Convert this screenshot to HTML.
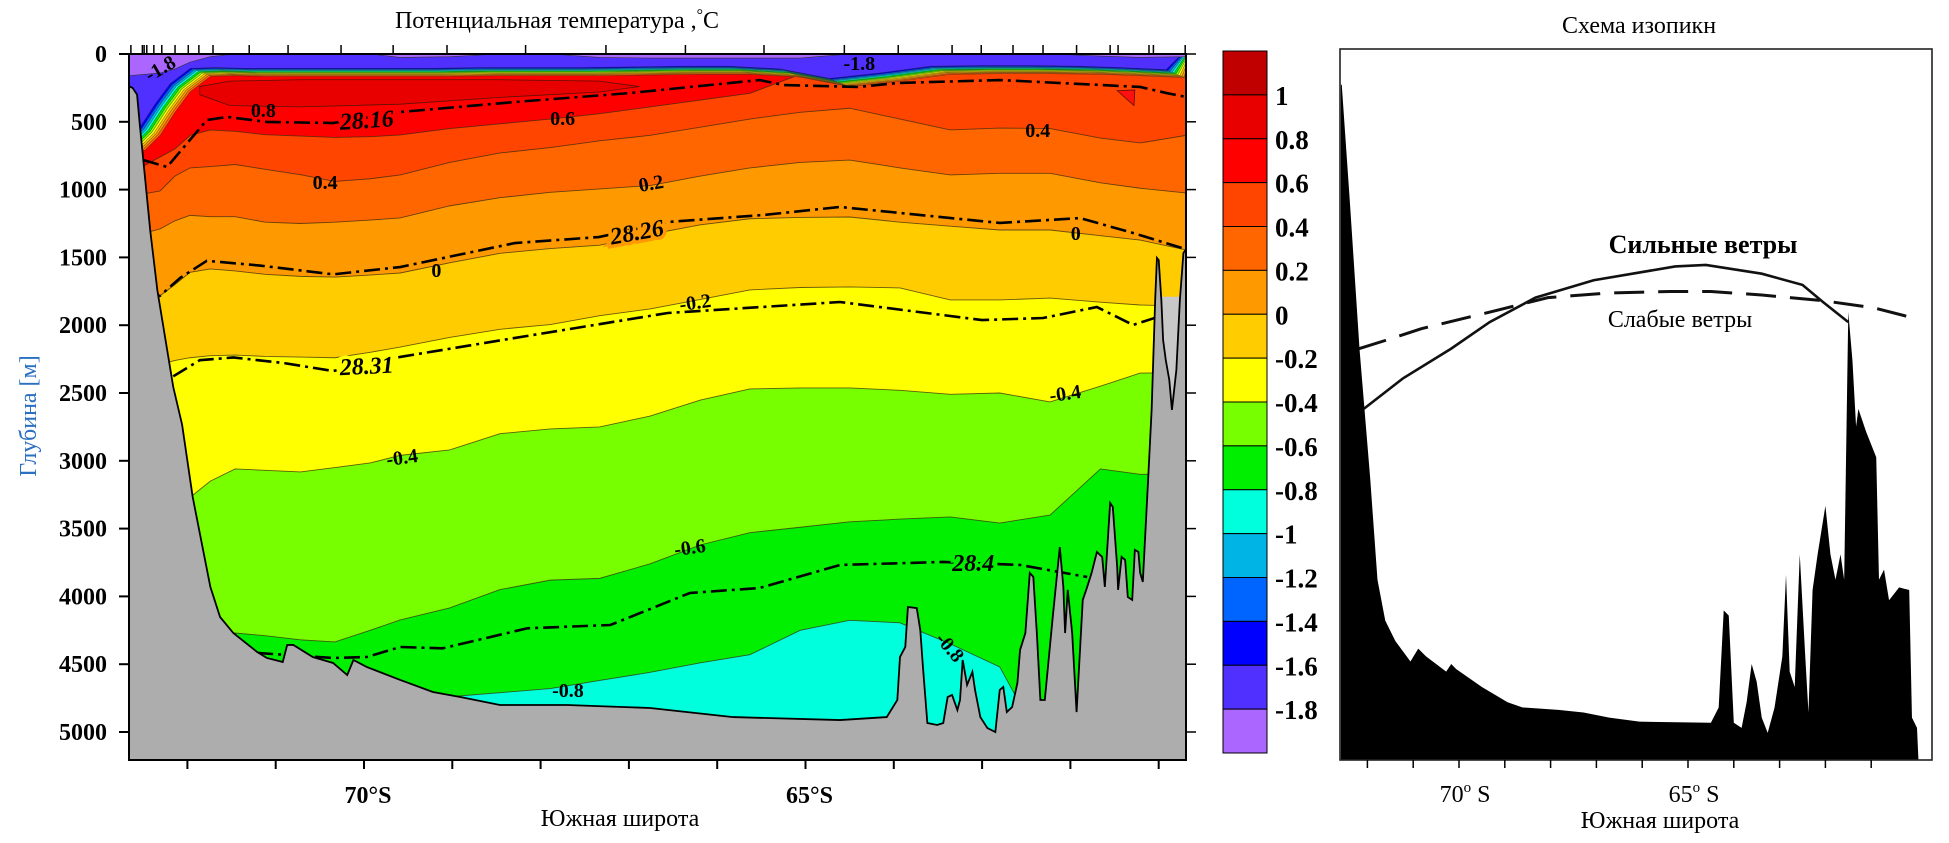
<!DOCTYPE html>
<html><head><meta charset="utf-8"><style>
html,body{margin:0;padding:0;background:#fff;}
svg{display:block;font-family:"Liberation Serif",serif;}
</style></head><body>
<svg id="fig" xmlns="http://www.w3.org/2000/svg" width="1949" height="843" viewBox="0 0 1949 843">
<defs><clipPath id="clipL"><rect x="129" y="54" width="1057" height="706"/></clipPath>
<clipPath id="clipR"><rect x="1340" y="49" width="592" height="711"/></clipPath></defs>
<g id="left"><g id="fields" clip-path="url(#clipL)"></g></g>
<g id="right"></g>
</svg>
<script>
// ---------- LEFT PANEL DATA ----------
const gridLat=[72.66,72.48,72.31,72.14,71.97,71.74,71.46,71.12,70.72,70.33,69.93,69.59,69.03,68.46,67.89,67.33,66.76,66.19,65.63,65.06,64.50,63.93,63.36,62.80,62.23,61.66,61.21,60.69];
const surfDepth=[720,710,600,430,280,165,160,165,165,165,165,165,165,160,160,160,155,150,150,170,240,200,150,145,145,150,160,175];
const lavDepth=[160,150,140,110,60,20,0,0,0,0,0,25,20,0,0,25,30,30,30,30,0,0,0,0,0,15,25,20];
const iso06=[850,820,760,700,600,560,570,595,605,615,610,597,550,515,480,440,390,340,290,150,100,100,100,100,100,100,100,100];
const iso04=[1050,1030,1010,900,840,830,815,850,890,940,920,892,800,730,690,640,600,540,480,430,400,480,560,546,550,620,656,600];
const iso02=[1350,1320,1290,1230,1190,1200,1200,1240,1250,1240,1225,1209,1120,1060,1020,995,970,900,840,800,782,840,892,880,880,950,990,1025];
const iso00=[1800,1790,1783,1700,1610,1585,1600,1625,1640,1645,1630,1615,1540,1470,1435,1410,1330,1260,1215,1205,1202,1240,1270,1298,1298,1340,1372,1445];
const isoM02=[2300,2300,2290,2260,2240,2225,2220,2230,2235,2240,2200,2161,2090,2030,1995,1930,1880,1810,1740,1722,1718,1725,1814,1814,1800,1830,1851,1860];
const isoM04=[3300,3300,3290,3280,3270,3150,3060,3070,3082,3050,3016,2960,2920,2800,2765,2750,2670,2552,2470,2463,2463,2480,2510,2500,2566,2450,2353,2350];
const isoM06=[4300,4300,4300,4300,4300,4300,4270,4290,4320,4336,4250,4174,4085,3950,3880,3867,3760,3620,3530,3490,3450,3430,3414,3459,3400,3060,3100,3100];
const isoM08=[4900,4900,4900,4900,4900,4900,4900,4900,4900,4900,4900,4900,4740,4710,4680,4620,4560,4490,4430,4250,4176,4195,4350,4520,5200,5300,5300,5300];
const coreLat=[71.86,71.52,70.72,69.59,68.46,67.33,66.88];
const coreTop=[240,200,190,190,190,200,240];
const coreBot=[300,380,390,370,320,280,240];
const rho1616Lat=[72.50,72.23,72.00,71.78,71.55,71.10,70.35,69.59,68.29,66.99,65.52,65.25,64.39,63.96,62.80,61.21,60.91,60.69];
const rho1616Dep=[782,833,656,487,464,501,509,428,354,288,192,229,243,214,192,243,288,317];
const rho2826Lat=[72.48,72.31,72.08,71.78,71.18,70.35,69.59,68.29,67.34,66.56,65.47,64.61,62.80,61.89,61.29,60.69];
const rho2826Dep=[1800,1783,1650,1525,1560,1625,1571,1394,1350,1239,1187,1128,1246,1210,1320,1440];
const rho2831Lat=[72.16,71.86,71.48,70.92,70.35,69.59,68.29,66.56,64.61,63.00,62.31,61.70,61.29,60.84,60.69];
const rho2831Dep=[2377,2258,2238,2278,2338,2234,2094,1910,1829,1962,1947,1866,1998,1903,1900];
const rho284Lat=[71.21,70.35,69.97,69.59,69.11,68.15,67.21,66.31,65.52,64.61,63.44,62.57,61.81];
const rho284Dep=[4417,4454,4447,4373,4383,4235,4211,3975,3938,3768,3746,3768,3857];
const bathyLat=[72.66,72.62,72.57,72.54,72.48,72.42,72.34,72.23,72.16,72.06,71.94,71.86,71.74,71.63,71.48,71.21,71.10,70.92,70.87,70.80,70.58,70.35,70.19,70.12,69.97,69.59,69.22,68.91,68.46,67.70,66.76,65.82,64.61,64.08,63.96,63.93,63.87,63.84,63.74,63.70,63.67,63.62,63.51,63.44,63.39,63.34,63.28,63.25,63.22,63.17,63.11,63.08,63.02,62.94,62.85,62.80,62.76,62.72,62.66,62.60,62.57,62.51,62.46,62.42,62.38,62.34,62.29,62.20,62.12,62.08,62.06,62.03,61.98,61.93,61.86,61.81,61.76,61.70,61.64,61.61,61.55,61.52,61.47,61.46,61.42,61.38,61.35,61.30,61.27,61.23,61.21,61.18,61.12,61.08,61.04,61.02,61.00,60.97,60.95,60.92,60.88,60.85,60.80,60.76,60.72,60.69];
const bathyDep=[238,250,300,515,911,1307,1743,2179,2456,2734,3267,3533,3930,4152,4270,4410,4454,4484,4358,4358,4447,4491,4580,4469,4520,4616,4705,4742,4801,4801,4823,4890,4912,4890,4764,4447,4373,4078,4086,4248,4520,4934,4948,4934,4742,4727,4838,4764,4469,4653,4557,4690,4890,4971,5000,4690,4668,4853,4816,4638,4395,4270,3827,3856,4270,4764,4764,4152,3636,3930,4270,3952,4270,4853,4026,3930,3827,3672,3709,3930,3311,3340,3783,3952,3709,3731,4004,4026,3657,3672,3827,3893,3141,2625,1814,1504,1520,1814,2109,2257,2404,2625,2330,1814,1467,1440];
const depthTicks=[0,500,1000,1500,2000,2500,3000,3500,4000,4500,5000];
const latTicks=[72,71,70,69,68,67,66,65,64,63,62,61];
const latLabels=[70,65];
const stationLats=[72.64,72.51,72.49,72.46,72.38,72.29,72.14,71.99,71.87,71.71,71.30,70.86,70.26,69.67,69.06,68.17,67.26,66.36,65.47,64.56,63.95,63.34,63.01,62.65,62.31,61.93,61.55,61.46,61.11,61.06,60.70];
const cbLabels=["1","0.8","0.6","0.4","0.2","0","-0.2","-0.4","-0.6","-0.8","-1","-1.2","-1.4","-1.6","-1.8"];
const cbColors=["#C00000","#E80000","#FF0000","#FF4500","#FF6600","#FF9900","#FFCC00","#FFFF00","#77FF00","#00EE00","#00FFDD","#00B4E6","#0064FF","#0000FF","#5030FF","#AA66FF"];
const contourLabels=[["-1.8",72.31,103,-30],["-1.8",64.39,66,0],["0.8",71.14,413,0],["0.6",67.75,472,0],["0.4",70.44,944,0],["0.4",62.37,560,0],["0.2",66.75,951,-10],["0",69.18,1593,0],["0",61.94,1320,0],["-0.2",66.25,1829,-8],["-0.4",69.57,2972,-8],["-0.4",62.06,2500,-8],["-0.6",66.31,3636,-8],["-0.8",67.69,4690,0],["-0.8",63.36,4373,50]];
// ---------- RIGHT PANEL DATA ----------
const strongLat=[72.08,71.22,70.17,69.33,68.33,67.06,65.28,64.61,63.39,62.50,62.06,61.50];
const strongDep=[2632,2408,2191,1997,1818,1691,1590,1579,1643,1725,1848,1997];
const weakLat=[72.22,71.50,70.83,69.17,68.06,66.72,65.39,64.50,63.39,62.06,60.94,59.94];
const weakDep=[2195,2120,2046,1911,1818,1784,1773,1773,1799,1840,1893,1979];
const rBathyLat=[72.58,72.56,72.39,72.17,71.94,71.78,71.61,71.39,71.06,70.89,70.72,70.28,70.17,70.06,69.5,68.94,68.61,67.83,67.28,66.72,66.06,64.5,64.33,64.22,64.11,64.0,63.83,63.72,63.61,63.5,63.39,63.26,63.11,62.94,62.86,62.78,62.67,62.56,62.44,62.37,62.28,62.17,62.0,61.89,61.78,61.67,61.59,61.5,61.41,61.33,61.28,61.11,60.89,60.83,60.72,60.61,60.39,60.17,60.11,60.0,59.97];
const rBathyDep=[261,261,1083,2203,3136,3882,4181,4330,4480,4386,4442,4554,4498,4536,4666,4778,4816,4834,4853,4890,4920,4928,4816,4106,4144,4928,4965,4778,4498,4629,4890,5002,4816,4442,3845,4554,4666,3696,4442,4853,3957,3696,3341,3696,3882,3696,3882,1922,2277,2762,2632,2800,2986,3882,3808,4032,3938,3957,4890,4965,5189];
const rLatTicks=[72,71,70,69,68,67,66,65,64,63,62,61];
const rLatLabels=[70,65];

const NS="http://www.w3.org/2000/svg";
const xL=l=>364+(70-l)*88.3, yL=d=>54+d*0.1356;
const xR=l=>1459+(70-l)*45.8, yR=d=>49.1+d*0.1367;
function mk(tag,attrs,parent){const e=document.createElementNS(NS,tag);for(const k in attrs)e.setAttribute(k,attrs[k]);parent.appendChild(e);return e;}
const fields=document.getElementById('fields'), left=document.getElementById('left'), right=document.getElementById('right');

let base=mk('rect',{x:129,y:54,width:1057,height:706,fill:'#FF0000'},fields);


const bands=[[iso06,'#FF4500','band-0.4-0.6'],[iso04,'#FF6600','band-0.2-0.4'],[iso02,'#FF9900','band-0-0.2'],[iso00,'#FFCC00','band-neg0.2-0'],[isoM02,'#FFFF00','band-neg0.4-neg0.2'],[isoM04,'#77FF00','band-neg0.6-neg0.4'],[isoM06,'#00F000','band-neg0.8-neg0.6'],[isoM08,'#00FFDD','band-neg1-neg0.8']];
const x0=xL(gridLat[0])-10, xN=xL(gridLat[gridLat.length-1])+10;
bands.forEach(([arr,col,name])=>{
  let pts=[[x0,yL(arr[0])]];
  gridLat.forEach((l,i)=>pts.push([xL(l),yL(arr[i])]));
  pts.push([xN,yL(arr[arr.length-1])],[xN,800],[x0,800]);
  const p=mk('polygon',{points:pts.map(q=>q.join(',')).join(' '),fill:col},fields);
  
  
});
bands.forEach(([arr,col,name])=>{
  const pts=gridLat.map((l,i)=>xL(l)+','+yL(arr[i])).join(' ');
  const c=mk('polyline',{points:pts,fill:'none',stroke:'#3a2a10','stroke-width':0.9,'stroke-opacity':0.75},fields);
  
  
});
{let pts=coreLat.map((l,i)=>xL(l)+','+yL(coreTop[i]));
 for(let i=coreLat.length-1;i>=0;i--)pts.push(xL(coreLat[i])+','+yL(coreBot[i]));
 const c=mk('polygon',{points:pts.join(' '),fill:'#E80000',stroke:'#5a1000','stroke-width':0.8},fields);
 
 
 const t=mk('polygon',{points:[xL(61.47)+','+yL(270),xL(61.27)+','+yL(265),xL(61.28)+','+yL(380)].join(' '),fill:'#FF1010',stroke:'#5a1000','stroke-width':0.8},fields);
 
 }
const surfCols=['#FF6A00','#FF9900','#FFC800','#FFFF00','#80FF00','#00EE00','#00FFDD','#00B4E6','#0064FF','#0000FF','#5030FF'];
surfCols.forEach((col,k)=>{
  let pts=[[x0,40]];
  gridLat.forEach((l,i)=>pts.push([xL(l)-k*2,yL(Math.max(0,surfDepth[i]-k*6))]));
  pts.push([xN,40]);
  const p=mk('polygon',{points:pts.map(q=>q.join(',')).join(' '),fill:col,stroke:'#222','stroke-width':0.6,'stroke-opacity':0.6},fields);
  
  
});
{let pts=[[x0,40]];gridLat.forEach((l,i)=>pts.push([xL(l),yL(lavDepth[i])]));pts.push([xN,40]);
 const p=mk('polygon',{points:pts.map(q=>q.join(',')).join(' '),fill:'#AA66FF',stroke:'#333','stroke-width':0.6},fields);
 
 }
const rhos=[[rho1616Lat,rho1616Dep,'28.16',69.97,487,-4,'#FF0000'],[rho2826Lat,rho2826Dep,'28.26',66.91,1313,-10,'#FF9900'],[rho2831Lat,rho2831Dep,'28.31',69.97,2300,-3,'#FFFF00'],[rho284Lat,rho284Dep,'28.4',63.10,3754,0,'#00F000']];
rhos.forEach(([la,de])=>{
  const l=mk('polyline',{points:la.map((v,i)=>xL(v)+','+yL(de[i])).join(' '),fill:'none',stroke:'#000','stroke-width':2.6,'stroke-dasharray':'16 5 3 5'},fields);
  
  
});
{const r=mk('rect',{x:xL(60.97),y:yL(1790),width:xL(60.73)-xL(60.97),height:yL(2700)-yL(1790),fill:'#C8C8C8'},fields);
 
 
 let pts=bathyLat.map((l,i)=>xL(l)+','+yL(bathyDep[i]));
 pts.push(xN+','+yL(bathyDep[bathyDep.length-1]),xN+',800',x0+',800',x0+','+yL(bathyDep[0]));
 const b=mk('polygon',{points:pts.join(' '),fill:'#ADADAD',stroke:'#000','stroke-width':1.8},fields);
 
 }
contourLabels.forEach(([t,l,d,rot])=>{
  const e=mk('text',{x:xL(l),y:yL(d)+7,'text-anchor':'middle','font-size':20,'font-weight':'bold',transform:`rotate(${rot} ${xL(l)} ${yL(d)})`},fields);
  e.textContent=t;
  
  
});
rhos.forEach(([la,de,t,l,d,rot,bg])=>{
  const e=mk('text',{x:xL(l),y:yL(d)+8,'text-anchor':'middle','font-size':24,'font-style':'italic','font-weight':'bold',stroke:bg,'stroke-width':7,'paint-order':'stroke',transform:`rotate(${rot} ${xL(l)} ${yL(d)})`},fields);
  e.textContent=t;
  
  
});
{const f=mk('rect',{x:129,y:54,width:1057,height:706,fill:'none',stroke:'#000','stroke-width':2},left);
 
 }
depthTicks.forEach(d=>{
  mk('line',{x1:119,x2:129,y1:yL(d),y2:yL(d),stroke:'#000','stroke-width':2},left);
  mk('line',{x1:1186,x2:1196,y1:yL(d),y2:yL(d),stroke:'#000','stroke-width':1.5},left);
  const t=mk('text',{x:107,y:yL(d)+8,'text-anchor':'end','font-size':24,'font-weight':'bold'},left);
  t.textContent=d;
  
  
});
latTicks.forEach(l=>mk('line',{x1:xL(l),x2:xL(l),y1:760,y2:769,stroke:'#000','stroke-width':2},left));
stationLats.forEach(l=>mk('line',{x1:xL(l),x2:xL(l),y1:45,y2:54,stroke:'#000','stroke-width':1.5},left));
latLabels.forEach(l=>{const t=mk('text',{x:xL(l)+4,y:803,'text-anchor':'middle','font-size':24,'font-weight':'bold'},left);t.textContent=l+'°S';
 
 });
{let t=mk('text',{x:620,y:826,'text-anchor':'middle','font-size':24},left);t.textContent='Южная широта';
 
 
 t=mk('text',{x:557,y:28,'text-anchor':'middle','font-size':24},left);t.innerHTML='Потенциальная температура ,<tspan dy="-8" font-size="16">°</tspan><tspan dy="8">C</tspan>';
 
 
 t=mk('text',{x:0,y:0,'text-anchor':'middle','font-size':24,fill:'#2a6fc0',transform:'translate(36 416) rotate(-90)'},left);t.textContent='Глубина [м]';
 
 }
const cbH=(753-51)/cbColors.length;
cbColors.forEach((c,i)=>{const r=mk('rect',{x:1223,y:51+i*cbH,width:44,height:cbH,fill:c,stroke:'#000','stroke-width':1},left);
 
 });
cbLabels.forEach((s,i)=>{const t=mk('text',{x:1275,y:51+(i+1)*cbH+10,'font-size':27,'font-weight':'bold'},left);t.textContent=s;
 
 });

const rg=mk('g',{'clip-path':'url(#clipR)'},right);
{const s=mk('polyline',{points:strongLat.map((l,i)=>xR(l)+','+yR(strongDep[i])).join(' '),fill:'none',stroke:'#111','stroke-width':2.6},rg);
 
 
 const w=mk('polyline',{points:weakLat.map((l,i)=>xR(l)+','+yR(weakDep[i])).join(' '),fill:'none',stroke:'#111','stroke-width':3,'stroke-dasharray':'30 14'},rg);
 
 
 let pts=rBathyLat.map((l,i)=>xR(l)+','+yR(rBathyDep[i]));
 pts.push(xR(59.97)+',770',xR(72.58)+',770');
 const b=mk('polygon',{points:pts.join(' '),fill:'#000'},rg);
 
 }
{const f=mk('rect',{x:1340,y:49,width:592,height:711,fill:'none',stroke:'#222','stroke-width':1.6},right);
 
 }
rLatTicks.forEach(l=>mk('line',{x1:xR(l),x2:xR(l),y1:760,y2:768,stroke:'#000','stroke-width':1.5},right));
rLatLabels.forEach(l=>{const t=mk('text',{x:xR(l)+6,y:802,'text-anchor':'middle','font-size':24},right);t.innerHTML=l+'<tspan dy="-10" font-size="15">o</tspan><tspan dy="10"> S</tspan>';
 
 });
{let t=mk('text',{x:1660,y:828,'text-anchor':'middle','font-size':24},right);t.textContent='Южная широта';
 
 
 t=mk('text',{x:1639,y:33,'text-anchor':'middle','font-size':24},right);t.textContent='Схема изопикн';
 
 
 t=mk('text',{x:1703,y:253,'text-anchor':'middle','font-size':26,'font-weight':'bold'},right);t.textContent='Сильные ветры';
 
 
 t=mk('text',{x:1680,y:327,'text-anchor':'middle','font-size':24},right);t.textContent='Слабые ветры';
 
 }
</script>
</body></html>
